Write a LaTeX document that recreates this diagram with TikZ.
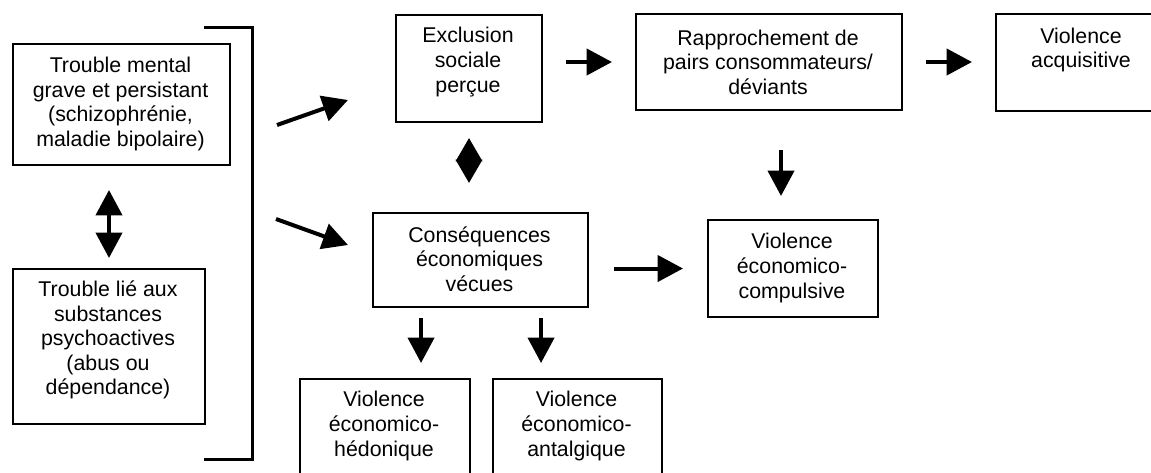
\documentclass[tikz,border=0pt]{standalone}
\usepackage{fontspec}
\setmainfont{Liberation Sans}
\usetikzlibrary{arrows.meta,calc}
\begin{document}
\begin{tikzpicture}[x=0.75pt,y=-0.75pt,
  box/.style={draw,line width=1.5pt,inner sep=0pt,anchor=north west},
  lbl/.style={align=center,font=\fontsize{16}{18.4}\selectfont,inner sep=0pt},
  arr/.style={line width=3pt,-{Triangle[length=19pt,width=19.5pt]}},
  biarr/.style={line width=3pt,{Triangle[length=19pt,width=19.5pt]}-{Triangle[length=19pt,width=19.5pt]}},
  diam/.style={line width=3pt,{Triangle[length=17.6pt,width=19.5pt]}-{Triangle[length=17.6pt,width=19.5pt]}},
  brk/.style={line width=2.25pt}]
\useasboundingbox (0,0) rectangle (1151,472);
\clip (0,0) rectangle (1151,472);
% boxes
\node[box,minimum width=162.75pt,minimum height=90.75pt] (A) at (12,43) {};
\node[box,minimum width=144pt,minimum height=116.25pt] (B) at (12,268) {};
\node[box,minimum width=109.5pt,minimum height=80.25pt] (excl) at (395,14) {};
\node[box,minimum width=199.5pt,minimum height=72pt] (rapp) at (635,13) {};
\node[box,minimum width=129pt,minimum height=72.75pt] (acq) at (995,13) {};
\node[box,minimum width=161.25pt,minimum height=70.5pt] (cons) at (372,212) {};
\node[box,minimum width=127.5pt,minimum height=72.75pt] (comp) at (707,219) {};
\node[box,minimum width=127.5pt,minimum height=73.5pt] (hed) at (299,378) {};
\node[box,minimum width=126.75pt,minimum height=73.5pt] (ant) at (492,378) {};
% texts
\node[lbl] (tA) at (120.5,104) {Trouble mental\\grave et persistant\\(schizophrénie,\\maladie bipolaire)};
\node[lbl] (tB) at (108,340) {Trouble lié aux\\substances\\psychoactives\\(abus ou\\dépendance)};
\node[lbl] (texcl) at (468,62) {Exclusion\\sociale\\perçue};
\node[lbl] (trapp) at (768,62) {Rapprochement de\\pairs consommateurs/\\déviants};
\node[lbl] (tacq) at (1081,50) {Violence\\acquisitive};
\node[lbl] (tcons) at (479.5,259) {Conséquences\\économiques\\vécues};
\node[lbl] (tcomp) at (792,268) {Violence\\économico-\\compulsive};
\node[lbl] (thed) at (384,426) {Violence\\économico-\\hédonique};
\node[lbl] (tant) at (576.5,426) {Violence\\économico-\\antalgique};
% bracket
\coordinate (br1) at (204,27);
\coordinate (br2) at (252,27);
\coordinate (br3) at (252,459);
\coordinate (br4) at (204,459);
\draw[brk] (br1) -- (br2) -- (br3) -- (br4);
% diagonal arrows
\coordinate (d1s) at (277,125);
\coordinate (d1e) at (348,100);
\coordinate (d2s) at (276,219);
\coordinate (d2e) at (348,245);
\draw[arr] (d1s) -- (d1e);
\draw[arr] (d2s) -- (d2e);
% connectors
\draw[biarr,shorten <=18pt,shorten >=7.5pt] (A.south -| B.north) -- (B.north);
\draw[diam,shorten <=11.25pt,shorten >=21.75pt] (excl.south) -- (excl.south |- cons.north);
\draw[arr,shorten <=17.25pt,shorten >=17.25pt] (rapp.west -| excl.east) -- (rapp.west);
\draw[arr,shorten <=17.25pt,shorten >=17.25pt] (rapp.east) -- (rapp.east -| acq.west);
\draw[arr,shorten <=29.25pt,shorten >=17.25pt] ([xshift=9pt]rapp.south) -- ([xshift=9pt]rapp.south |- comp.north);
\draw[arr,shorten <=18.75pt,shorten >=18pt] (comp.west -| cons.east) -- (comp.west);
\draw[arr,shorten <=7.5pt,shorten >=11.25pt] ([xshift=-44.6pt]cons.south) -- ([xshift=-44.6pt]cons.south |- hed.north);
\draw[arr,shorten <=7.5pt,shorten >=11.25pt] ([xshift=45.4pt]cons.south) -- ([xshift=45.4pt]cons.south |- ant.north);
\end{tikzpicture}
\end{document}
